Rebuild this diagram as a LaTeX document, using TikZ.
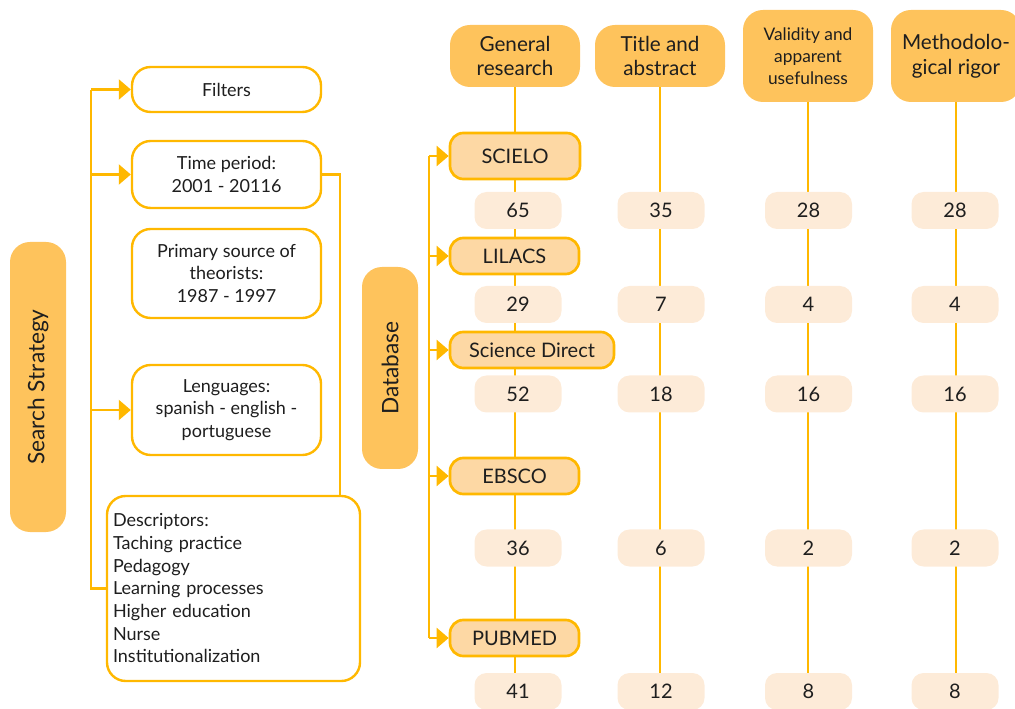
\documentclass[tikz,border=0pt]{standalone}
\usepackage{fontspec}
\setmainfont{Lato}
\usetikzlibrary{arrows.meta,backgrounds}
\definecolor{amber}{HTML}{FFB800}
\definecolor{headfill}{HTML}{FEC35C}
\definecolor{dbfill}{HTML}{FDD8A4}
\definecolor{numfill}{HTML}{FDEBD8}
\definecolor{ink}{HTML}{1E1E1E}

\begin{document}
\begin{tikzpicture}[x=0.75pt,y=-0.75pt,
	link/.style={draw=amber,line width=1.6pt},
	arr/.style={link,-{Triangle[length=9pt,width=15pt]}},
	filterbox/.style={draw=amber,line width=1.8pt,fill=white,rounded corners=14pt,inner sep=0pt,align=center,minimum width=141.75pt,font=\fontsize{13.5}{17}\selectfont,text=ink},
	sidebar/.style={fill=headfill,rounded corners=15pt,inner sep=0pt,minimum height=42pt,rotate=90,font=\fontsize{17}{20}\selectfont,text=ink},
	header/.style={fill=headfill,rounded corners=15pt,inner sep=0pt,minimum width=97.5pt,align=center,text=ink},
	dbbox/.style={draw=amber,fill=dbfill,line width=2pt,rounded corners=10pt,inner sep=0pt,minimum height=27pt,font=\fontsize{15}{18}\selectfont,text=ink},
	numbox/.style={fill=numfill,rounded corners=9pt,inner sep=0pt,minimum width=65.25pt,minimum height=27.75pt,font=\fontsize{15}{18}\selectfont,text=ink}]

	\useasboundingbox (0,0) rectangle (1015,709);
	\clip (0,0) rectangle (1015,709);

	% search strategy side
	\node[sidebar,minimum width=217.5pt] (strategy) at (38,387) {Search Strategy};
	\node[filterbox,minimum height=33.75pt] (filters) at (226.5,89.5) {Filters};
	\node[filterbox,minimum height=50.25pt] (time) at (226.5,174.5) {Time period:\\2001 - 20116};
	\node[filterbox,minimum height=66.75pt] (source) at (226.5,273.5) {Primary source of\\theorists:\\1987 - 1997};
	\node[filterbox,minimum height=67.5pt] (lang) at (226.5,410) {Lenguages:\\spanish - english -\\portuguese};
	\node[filterbox,minimum height=138.75pt,inner xsep=4.5pt,text width=180.75pt,align=left] (desc) at (233.5,588.5)
		{Descriptors:\\Taching practice\\Pedagogy\\Learning processes\\Higher education\\Nurse\\Institutionalization};

	\coordinate (stop) at (91,90);
	\draw[link] (stop) |- (desc.west);
	\foreach \n in {filters,time,lang}
		\draw[arr] (stop |- \n.west) -- (\n.west);
	\coordinate (tdrop) at (340,496);
	\draw[link] (time.east) -| (tdrop);

	% database side
	\node[sidebar,minimum width=151.5pt] (database) at (390,368) {Database};
	\node[header,minimum height=46.5pt,font=\fontsize{15.5}{18.5}\selectfont] (general) at (515,56) {General\\research};
	\node[header,minimum height=46.5pt,font=\fontsize{15.5}{18.5}\selectfont] (title) at (660,56) {Title and\\abstract};
	\node[header,minimum height=69pt,font=\fontsize{13}{16.5}\selectfont] (valid) at (808,56) {Validity and\\apparent\\usefulness};
	\node[header,minimum height=69pt,font=\fontsize{15.5}{18.5}\selectfont] (rigor) at (956,56) {Methodolo-\\gical rigor};

	\node[dbbox,minimum width=97.5pt,minimum height=34.5pt] (scielo) at (515,156) {SCIELO};
	\node[dbbox,minimum width=96.75pt] (lilacs) at (514.5,256) {LILACS};
	\node[dbbox,minimum width=123pt] (scidir) at (532,350) {Science Direct};
	\node[dbbox,minimum width=96.75pt] (ebsco) at (514.5,476) {EBSCO};
	\node[dbbox,minimum width=96.75pt] (pubmed) at (514.5,638) {PUBMED};

	\foreach \y/\r/\a/\b/\c/\d in {210.5/1/65/35/28/28, 304.5/2/29/7/4/4, 394/3/52/18/16/16, 548/4/36/6/2/2, 691.5/5/41/12/8/8} {
		\node[numbox] (g\r) at (518,\y) {\a};
		\node[numbox] (t\r) at (661,\y) {\b};
		\node[numbox] (v\r) at (808.5,\y) {\c};
		\node[numbox] (m\r) at (955,\y) {\d};
	}

	\coordinate (dtop) at (429,156);
	\draw[link] (dtop) -- (dtop |- pubmed.west);
	\foreach \n in {scielo,lilacs,scidir,ebsco,pubmed}
		\draw[arr] (dtop |- \n.west) -- (\n.west);

	\begin{scope}[on background layer]
		\draw[link] (general.south) -- (general.south |- g5.north);
		\draw[link] (title.south) -- (title.south |- t5.north);
		\draw[link] (valid.south) -- (valid.south |- v5.north);
		\draw[link] (rigor.south) -- (rigor.south |- m5.north);
	\end{scope}
\end{tikzpicture}
\end{document}
